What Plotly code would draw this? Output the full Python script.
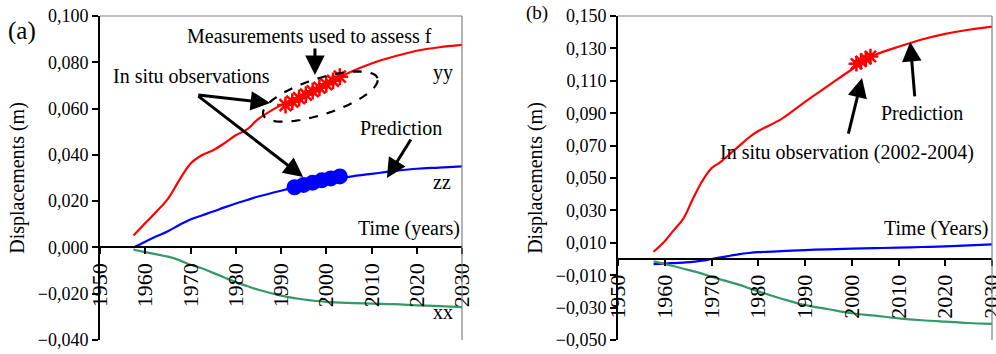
import numpy as np
import plotly.graph_objects as go

# ---------------- data ----------------
# (a) left panel
a_years = [1957.4, 1960, 1962.5, 1965, 1967.5, 1970, 1972.5, 1975, 1977.5, 1980, 1982.5,
           1985, 1990, 1995, 2000, 2005, 2010, 2015, 2020, 2025, 2030]
a_yy = [0.0052, 0.0105, 0.0155, 0.021, 0.029, 0.0362, 0.0398, 0.042, 0.045, 0.0485, 0.051,
        0.0555, 0.0615, 0.066, 0.0705, 0.0755, 0.0795, 0.0825, 0.085, 0.0865, 0.0875]
a_zz = [0.0, 0.0025, 0.0048, 0.007, 0.0097, 0.0121, 0.0138, 0.0155, 0.0173, 0.019, 0.0205,
        0.022, 0.0245, 0.0268, 0.0288, 0.0305, 0.0318, 0.033, 0.034, 0.0345, 0.035]
a_xx = [-0.001, -0.002, -0.003, -0.004, -0.0055, -0.0075, -0.009, -0.011, -0.013, -0.015, -0.0167,
        -0.0183, -0.0208, -0.0225, -0.0235, -0.024, -0.0243, -0.0245, -0.025, -0.0254, -0.0258]
a_obs_yy_years = [1991, 1992.5, 1994, 1995.5, 1997, 1998.5, 2000, 2001.5, 2003]
a_obs_yy = [0.0615, 0.063, 0.0645, 0.066, 0.0675, 0.069, 0.0705, 0.072, 0.0738]
a_obs_zz_years = [1993, 1995, 1997, 1999, 2001, 2003]
a_obs_zz = [0.026, 0.027, 0.028, 0.029, 0.0298, 0.0307]

# (b) right panel
b_years = [1957.6, 1960, 1962, 1964, 1966, 1968, 1970, 1972, 1974, 1976, 1978, 1980,
           1985, 1990, 1995, 2000, 2005, 2010, 2015, 2020, 2025, 2030]
b_yy = [0.0045, 0.011, 0.018, 0.025, 0.037, 0.048, 0.056, 0.060, 0.065, 0.070, 0.075, 0.079,
        0.0865, 0.097, 0.107, 0.117, 0.126, 0.131, 0.1355, 0.139, 0.1415, 0.1435]
b_zz = [-0.0032, -0.0028, -0.0025, -0.0022, -0.0018, -0.001, 0.0, 0.001, 0.002, 0.003, 0.0037, 0.0042,
        0.0048, 0.0055, 0.006, 0.0064, 0.0067, 0.007, 0.0074, 0.0078, 0.0084, 0.009]
b_xx = [-0.0015, -0.003, -0.0045, -0.006, -0.0075, -0.009, -0.011, -0.0127, -0.0143, -0.016, -0.018, -0.020,
        -0.0245, -0.0285, -0.031, -0.0335, -0.035, -0.0366, -0.0378, -0.0387, -0.0395, -0.040]
b_obs_years = [2001, 2002, 2003, 2004]
b_obs = [0.1205, 0.122, 0.1235, 0.125]

x_ticks = [1950, 1960, 1970, 1980, 1990, 2000, 2010, 2020, 2030]
a_y_ticks = [-0.04, -0.02, 0.0, 0.02, 0.04, 0.06, 0.08, 0.10]
b_y_ticks = [-0.05, -0.03, -0.01, 0.01, 0.03, 0.05, 0.07, 0.09, 0.11, 0.13, 0.15]

# ---------------- layout constants ----------------
W, H = 996, 354
FONT = "Liberation Serif"
RED, BLUE, GREEN = "#FF0000", "#0000FF", "#339966"
dom_y = [1 - 340 / H, 1 - 16 / H]
dom_xa = [100 / W, 462 / W]
dom_xb = [618 / W, 992 / W]
a_range = [-0.04, 0.10]
b_range = [-0.05, 0.15]
x_range = [1950, 2030]


def zero_pos(r):
    return dom_y[0] + (0 - r[0]) / (r[1] - r[0]) * (dom_y[1] - dom_y[0])


fig = go.Figure()

line_w = 2.2
fig.add_trace(go.Scatter(x=a_years, y=a_yy, mode="lines", line=dict(color=RED, width=line_w, shape="spline"), xaxis="x", yaxis="y"))
fig.add_trace(go.Scatter(x=a_years, y=a_zz, mode="lines", line=dict(color=BLUE, width=line_w, shape="spline"), xaxis="x", yaxis="y"))
fig.add_trace(go.Scatter(x=a_years, y=a_xx, mode="lines", line=dict(color=GREEN, width=line_w, shape="spline"), xaxis="x", yaxis="y"))
fig.add_trace(go.Scatter(x=a_obs_yy_years, y=a_obs_yy, mode="markers",
                         marker=dict(symbol="asterisk-open", size=14, color=RED, line=dict(color=RED, width=2.5)),
                         xaxis="x", yaxis="y"))
fig.add_trace(go.Scatter(x=a_obs_zz_years, y=a_obs_zz, mode="markers",
                         marker=dict(symbol="circle", size=16, color=BLUE), xaxis="x", yaxis="y"))

fig.add_trace(go.Scatter(x=b_years, y=b_yy, mode="lines", line=dict(color=RED, width=line_w, shape="spline"), xaxis="x2", yaxis="y2"))
fig.add_trace(go.Scatter(x=b_years, y=b_zz, mode="lines", line=dict(color=BLUE, width=line_w, shape="spline"), xaxis="x2", yaxis="y2"))
fig.add_trace(go.Scatter(x=b_years, y=b_xx, mode="lines", line=dict(color=GREEN, width=line_w, shape="spline"), xaxis="x2", yaxis="y2"))
fig.add_trace(go.Scatter(x=b_obs_years, y=b_obs, mode="markers",
                         marker=dict(symbol="asterisk-open", size=13, color=RED, line=dict(color=RED, width=2.5)),
                         xaxis="x2", yaxis="y2"))

tick_font = dict(family=FONT, size=18, color="black")
xtick_font = dict(family=FONT, size=22, color="black")
title_font = dict(family=FONT, size=20, color="black")

xcommon = dict(range=x_range, tickvals=x_ticks, showline=True, linecolor="black", linewidth=2,
               ticks="outside", ticklen=6, tickwidth=2, tickcolor="black", tickangle=-90,
               tickfont=xtick_font, showgrid=False, zeroline=False, anchor="free", automargin=False,
               ticklabeloverflow="allow")
ycommon = dict(showline=True, linecolor="black", linewidth=2, ticks="outside", ticklen=6, tickwidth=2,
               tickcolor="black", tickformat=".3f", tickfont=tick_font, showgrid=False, zeroline=False,
               automargin=False, domain=dom_y,
               title=dict(text="Displacements (m)", font=title_font, standoff=8))

fig.update_layout(
    width=W, height=H, margin=dict(l=0, r=0, t=0, b=0),
    paper_bgcolor="white", plot_bgcolor="white", showlegend=False, separators=", ",
    font=dict(family=FONT, color="black"),
    xaxis=dict(domain=dom_xa, position=zero_pos(a_range), **xcommon),
    yaxis=dict(range=a_range, tickvals=a_y_ticks, anchor="x", **ycommon),
    xaxis2=dict(domain=dom_xb, position=zero_pos(b_range), **xcommon),
    yaxis2=dict(range=b_range, tickvals=b_y_ticks, anchor="x2", **ycommon),
)

# gray top/right frame lines
for xr, yr in (("x domain", "y domain"), ("x2 domain", "y2 domain")):
    fig.add_shape(type="line", xref=xr, yref=yr, x0=0, x1=1, y0=1, y1=1, line=dict(color="#808080", width=1.2))
    fig.add_shape(type="line", xref=xr, yref=yr, x0=1, x1=1, y0=0, y1=1, line=dict(color="#808080", width=1.2))

# dashed ellipse around the measurements (drawn in pixel space, mapped to data)
px_per_year = (dom_xa[1] - dom_xa[0]) * W / (x_range[1] - x_range[0])
px_per_unit = (dom_y[1] - dom_y[0]) * H / (a_range[1] - a_range[0])
ec_x, ec_y, ea, eb, eang = 1998.7, 0.0652, 60, 18, np.deg2rad(17.8)
t = np.linspace(0, 2 * np.pi, 60)
dx = ea * np.cos(t) * np.cos(eang) - eb * np.sin(t) * np.sin(eang)
dy = ea * np.cos(t) * np.sin(eang) + eb * np.sin(t) * np.cos(eang)
ex = ec_x + dx / px_per_year
ey = ec_y + dy / px_per_unit
path = "M " + " L ".join(f"{x:.4f},{y:.5f}" for x, y in zip(ex, ey)) + " Z"
fig.add_shape(type="path", path=path, xref="x", yref="y", line=dict(color="black", width=2.2, dash="dash"))


def text(x, y, s, xref="x", yref="y", xanchor="center", size=20):
    fig.add_annotation(x=x, y=y, xref=xref, yref=yref, text=s, showarrow=False, xanchor=xanchor,
                       yanchor="middle", font=dict(family=FONT, size=size, color="black"))


def arrow(x0, y0, x1, y1, xa="x", ya="y"):
    fig.add_annotation(x=x1, y=y1, ax=x0, ay=y0, xref=xa, yref=ya, axref=xa, ayref=ya, text="",
                       showarrow=True, arrowhead=2, arrowsize=1.3, arrowwidth=3, arrowcolor="black")


# panel (a)
text(22 / W, 1 - 31 / H, "(a)", xref="paper", yref="paper", size=25)
text(1996.4, 0.0914, "Measurements used to assess f")
arrow(1997.5, 0.0866, 1997.5, 0.0745)
text(1970.3, 0.0741, "In situ observations")
arrow(1971.4, 0.0659, 1987.6, 0.0624)
arrow(1971.4, 0.0659, 1994.9, 0.0304)
text(2016.5, 0.0516, "Prediction")
arrow(2018.9, 0.0473, 2013.4, 0.030)
text(2025.8, 0.0758, "yy")
text(2025.6, 0.0283, "zz")
text(2030, 0.008, "Time (years)", xanchor="right")
text(2025.8, -0.028, "xx")

# panel (b)
text(537 / W, 1 - 13 / H, "(b)", xref="paper", yref="paper", size=19)
text(1999.0, 0.066, "In situ observation (2002-2004)", xref="x2", yref="y2")
arrow(1999.2, 0.0765, 2002.2, 0.1117, "x2", "y2")
text(2015.0, 0.0901, "Prediction", xref="x2", yref="y2")
arrow(2013.5, 0.0994, 2012.5, 0.134, "x2", "y2")
text(2029.5, 0.0191, "Time (Years)", xref="x2", yref="y2", xanchor="right")

fig.write_html("out.html")
